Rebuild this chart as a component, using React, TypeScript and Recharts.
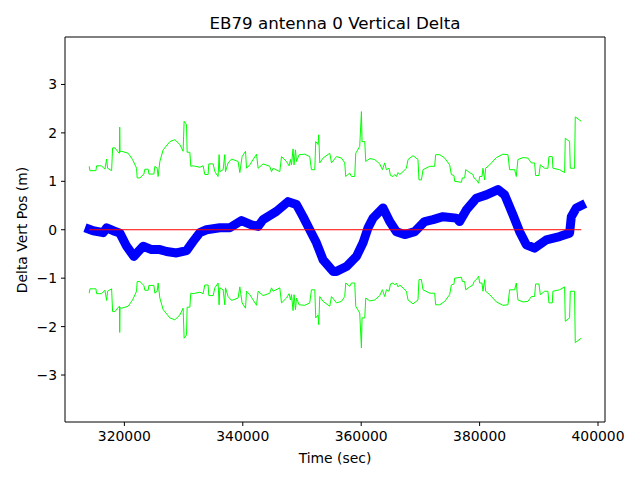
import { LineChart, Line, XAxis, YAxis, ReferenceLine } from 'recharts'

// green bound (plotted as +sigma and -sigma)
const sigmaTime = [
  314060, 314180, 315190, 315310, 316150, 316710, 317000, 317160, 317840, 318010,
  318400, 319120, 319170, 319210, 319270, 319530, 320640, 321380, 322060, 322160,
  322620, 323290, 323460, 324020, 324140, 324980, 325150, 325540, 325700, 325990,
  326550, 327680, 328520, 329370, 329920, 330090, 330500, 330600, 331060, 331220,
  331610, 332740, 333300, 333590, 334140, 334260, 334990, 335280, 335830, 336000,
  336120, 336680, 336960, 337080, 337520, 338100, 339210, 339500, 339880, 340460,
  340630, 341180, 342320, 342590, 343430, 344560, 344850, 345120, 346250, 346540,
  347380, 347820, 348060, 348220, 348490, 348660, 348900, 349070, 349510, 350470,
  351310, 351600, 352160, 352320, 352710, 352830, 353000, 353560, 354690, 354980,
  355820, 356660, 357220, 357390, 358060, 358350, 358910, 359080, 359750, 360040,
  360140, 360600, 360770, 361440, 362280, 363130, 363580, 363970, 364260, 364700,
  364940, 365370, 365660, 365950, 366220, 366500, 367060, 367640, 367910, 368750,
  369590, 369760, 370170, 370440, 371570, 372410, 372580, 373260, 374100, 374940,
  375230, 375670, 375790, 376920, 377090, 377480, 377650, 378320, 378880, 379050,
  379450, 379840, 380010, 380400, 380570, 380850, 381020, 381700, 382830, 383940,
  384790, 385070, 385920, 386200, 386470, 387320, 388160, 388740, 389290, 389460,
  390020, 390260, 390980, 391540, 391710, 392280, 392380, 393510, 394360, 394470,
  395200, 395320, 396040, 396160, 397170,
]
const sigmaValue = [
  1.31, 1.22, 1.22, 1.32, 1.32, 1.25, 1.46, 1.27, 1.22, 1.69,
  1.69, 1.58, 1.58, 2.12, 1.61, 1.62, 1.58, 1.45, 1.27, 1.07,
  1.07, 1.15, 1.25, 1.25, 1.15, 1.15, 1.31, 1.27, 1.10, 1.41,
  1.65, 1.82, 1.86, 1.76, 1.62, 2.24, 2.17, 1.60, 1.60, 1.31,
  1.32, 1.29, 1.32, 1.14, 1.14, 1.36, 1.36, 1.20, 1.10, 1.55,
  1.20, 1.24, 1.55, 1.20, 1.38, 1.46, 1.41, 1.18, 1.51, 1.62,
  1.27, 1.34, 1.56, 1.27, 1.36, 1.31, 1.20, 1.27, 1.20, 1.51,
  1.41, 1.32, 1.45, 1.34, 1.67, 1.34, 1.65, 1.41, 1.55, 1.56,
  1.51, 1.24, 1.24, 1.82, 1.76, 1.96, 1.38, 1.48, 1.58, 1.38,
  1.51, 1.48, 1.38, 1.10, 1.17, 1.10, 1.10, 1.58, 1.72, 2.44,
  1.82, 1.82, 1.41, 1.47, 1.45, 1.36, 1.24, 1.38, 1.24, 1.27,
  1.12, 1.10, 1.14, 1.10, 1.18, 1.14, 1.20, 1.27, 1.45, 1.53,
  1.45, 1.03, 1.03, 1.24, 1.31, 1.31, 1.55, 1.55, 1.48, 1.34,
  1.14, 1.12, 1.00, 0.98, 1.07, 1.07, 1.24, 1.18, 1.14, 1.07,
  1.03, 0.96, 1.10, 1.10, 1.27, 1.03, 1.27, 1.34, 1.49, 1.56,
  1.55, 1.24, 1.24, 1.10, 1.45, 1.49, 1.48, 1.38, 1.38, 1.12,
  1.12, 1.34, 1.27, 1.27, 1.51, 1.51, 1.27, 1.24, 1.18, 1.89,
  1.82, 1.27, 1.27, 2.33, 2.24,
]

// vertical delta (blue)
const deltaTime = [
  314060, 314730, 316420, 317000, 318110, 319240, 320370, 321600, 323170, 324590,
  325990, 327120, 328810, 330500, 331610, 332740, 333880, 336120, 337810, 339780,
  341470, 342590, 343430, 345690, 347650, 349070, 350180, 351310, 352440, 353560,
  355250, 355820, 357510, 359200, 360310, 361150, 362000, 363690, 364820, 365950,
  367350, 369040, 370720, 372130, 373810, 376080, 376630, 377760, 379450, 381140,
  383100, 384230, 385630, 386760, 387890, 389290, 391270, 393510, 395200, 395490,
  396330, 397170,
]
const deltaValue = [
  0.01, -0.02, -0.06, 0.04, -0.02, -0.07, -0.34, -0.55, -0.34, -0.41,
  -0.41, -0.45, -0.48, -0.43, -0.24, -0.06, 0.0, 0.04, 0.04, 0.19,
  0.1, 0.07, 0.21, 0.38, 0.58, 0.52, 0.27, 0.0, -0.27, -0.62,
  -0.86, -0.86, -0.76, -0.55, -0.27, 0.04, 0.24, 0.45, 0.17, -0.04,
  -0.1, -0.04, 0.17, 0.21, 0.27, 0.24, 0.17, 0.41, 0.65, 0.72,
  0.83, 0.72, 0.31, -0.04, -0.31, -0.38, -0.21, -0.14, -0.07, 0.27,
  0.45, 0.5,
]

const zeroTime = [314060, 397170]

const xDomain = [309970, 401180]
const yDomain = [-3.97, 3.98]
const xTicks = [320000, 340000, 360000, 380000, 400000]
const yTicks = [-3, -2, -1, 0, 1, 2, 3]

const upper = sigmaTime.map((t, i) => ({ t, v: sigmaValue[i] }))
const lower = sigmaTime.map((t, i) => ({ t, v: -sigmaValue[i] }))
const delta = deltaTime.map((t, i) => ({ t, v: deltaValue[i] }))
const zero = zeroTime.map((t) => ({ t, v: 0 }))

const font = 'DejaVu Sans, sans-serif'
const tickStyle = { fill: '#000', fontSize: 13.9, fontFamily: font }
const minus = (v: number) => String(v).replace('-', '\u2212')

export default function App() {
  return (
    <div style={{ position: 'absolute', left: 0, top: 0, width: 640, height: 480, background: '#fff' }}>
      <LineChart
        width={640}
        height={480}
        margin={{ top: 37, right: 35, left: 0, bottom: 0 }}
      >
        <XAxis
          type="number"
          dataKey="t"
          domain={xDomain}
          ticks={xTicks}
          allowDataOverflow
          height={58}
          tick={tickStyle}
          tickSize={4}
          tickMargin={5}
          stroke="#000"
          tickLine={{ stroke: '#000' }}
        />
        <YAxis
          type="number"
          domain={yDomain}
          ticks={yTicks}
          allowDataOverflow
          width={65}
          tick={tickStyle}
          tickSize={4}
          tickMargin={4}
          tickFormatter={minus}
          stroke="#000"
          tickLine={{ stroke: '#000' }}
        />
        {/* top and right edges of the frame */}
        <ReferenceLine y={yDomain[1]} stroke="#000" strokeWidth={1} />
        <ReferenceLine x={xDomain[1]} stroke="#000" strokeWidth={1} />
        <Line data={upper} dataKey="v" type="linear" stroke="#00ff00" strokeWidth={1} dot={false} activeDot={false} isAnimationActive={false} />
        <Line data={lower} dataKey="v" type="linear" stroke="#00ff00" strokeWidth={1} dot={false} activeDot={false} isAnimationActive={false} />
        <Line
          data={delta}
          dataKey="v"
          type="linear"
          stroke="#0000ff"
          strokeWidth={9}
          strokeLinecap="square"
          strokeLinejoin="round"
          dot={false}
          activeDot={false}
          isAnimationActive={false}
        />
        <Line data={zero} dataKey="v" type="linear" stroke="#ff0000" strokeWidth={1} dot={false} activeDot={false} isAnimationActive={false} />
      </LineChart>
      <svg
        width={640}
        height={480}
        style={{ position: 'absolute', left: 0, top: 0, pointerEvents: 'none' }}
      >
        <text x={335} y={29} textAnchor="middle" fontFamily={font} fontSize={16.7} fill="#000">
          EB79 antenna 0 Vertical Delta
        </text>
        <text x={335} y={463} textAnchor="middle" fontFamily={font} fontSize={13.9} fill="#000">
          Time (sec)
        </text>
        <text
          x={0}
          y={0}
          transform="translate(27 230) rotate(-90)"
          textAnchor="middle"
          fontFamily={font}
          fontSize={13.9}
          fill="#000"
        >
          Delta Vert Pos (m)
        </text>
      </svg>
    </div>
  )
}
